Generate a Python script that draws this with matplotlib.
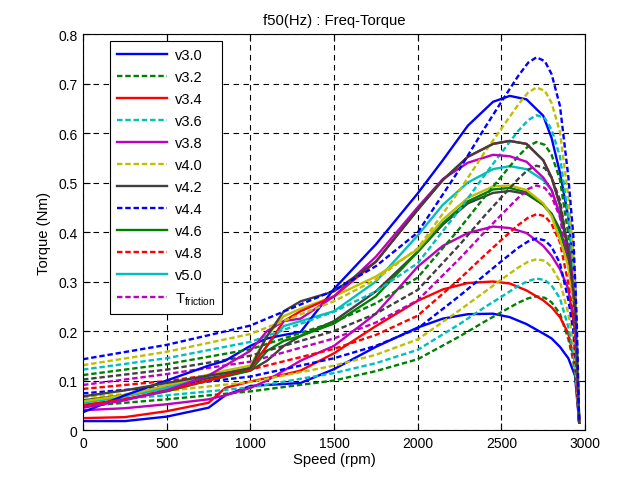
import numpy as np
import matplotlib
matplotlib.use("Agg")
import matplotlib.pyplot as plt

plt.rcParams['font.family'] = ['Liberation Sans', 'DejaVu Sans']
plt.rcParams['mathtext.fontset'] = 'custom'
plt.rcParams['mathtext.rm'] = 'Liberation Sans'
plt.rcParams['mathtext.it'] = 'Liberation Sans'

# speed grids (rpm)
speed_solid = [0, 250, 500, 750, 850, 1000, 1100, 1200, 1300, 1500, 1750, 2000,
               2150, 2300, 2450, 2550, 2650, 2750, 2800, 2850, 2900, 2940, 2965]
speed_dash = [0, 500, 1000, 1500, 1750, 2000, 2250, 2400, 2500, 2600, 2660,
              2710, 2760, 2800, 2850, 2900, 2930, 2950, 2965]

# solid curves (torque, Nm)
s0_blue = [.018, .018, .027, .045, .070, .089, .091, .093, .095, .123, .168, .207,
           .225, .234, .235, .228, .214, .195, .185, .168, .145, .110, .015]
s2_red = [.024, .026, .038, .055, .085, .098, .105, .112, .120, .155, .210, .261,
          .284, .297, .300, .296, .282, .262, .248, .228, .195, .135, .015]
s4_magenta = [.040, .044, .052, .062, .070, .085, .100, .120, .140, .170, .235, .330,
              .372, .398, .411, .408, .398, .372, .352, .325, .285, .200, .015]
s6_gray = [.060, .070, .085, .105, .110, .120, .140, .170, .190, .220, .280, .360,
           .415, .458, .479, .483, .477, .455, .437, .405, .350, .260, .015]
s8_green = [.050, .062, .078, .100, .108, .120, .160, .180, .190, .215, .270, .360,
            .418, .462, .486, .489, .480, .455, .435, .400, .345, .250, .015]
s10_cyan = [.055, .068, .085, .110, .115, .125, .170, .210, .220, .240, .300, .393,
            .455, .500, .527, .533, .527, .505, .485, .435, .370, .270, .015]
s12_yellow = [.058, .070, .090, .112, .120, .130, .190, .230, .245, .270, .310, .365,
              .425, .469, .492, .494, .485, .458, .432, .385, .330, .240, .015]
s14_blue = [.036, .070, .100, .130, .140, .170, .185, .192, .198, .285, .375, .478,
            .545, .615, .663, .675, .668, .635, .590, .520, .430, .300, .015]
s16_red = [.050, .062, .080, .100, .110, .125, .170, .220, .240, .270, .340, .445,
           .505, .552, .578, .584, .578, .545, .510, .455, .360, .260, .015]
s18_magenta = [.045, .060, .080, .110, .130, .160, .200, .220, .225, .270, .350, .450,
               .507, .540, .556, .553, .542, .510, .485, .435, .370, .270, .015]
s20_gray = [.068, .080, .095, .110, .115, .125, .190, .240, .260, .280, .340, .445,
            .505, .552, .578, .584, .578, .545, .510, .455, .360, .260, .015]

# dashed curves (torque, Nm)
d1_green = [.048, .062, .078, .100, .119, .143, .189, .219, .238, .257, .266,
            .270, .267, .258, .235, .184, .140, .081, .015]
d3_cyan = [.058, .070, .086, .115, .135, .162, .214, .248, .269, .291, .301,
           .306, .303, .292, .266, .208, .159, .092, .015]
d5_yellow = [.066, .079, .097, .130, .152, .183, .242, .279, .304, .328, .340,
             .345, .342, .329, .300, .235, .179, .104, .015]
d7_blue = [.074, .088, .108, .145, .170, .205, .271, .313, .341, .368, .381,
           .387, .383, .370, .337, .263, .201, .116, .015]
d9_red = [.083, .099, .122, .164, .192, .231, .305, .353, .384, .414, .429,
          .436, .432, .416, .379, .296, .227, .131, .015]
d11_magenta = [.091, .113, .138, .185, .217, .262, .346, .400, .435, .469, .487,
               .494, .489, .472, .430, .336, .257, .148, .015]
d13_gray = [.102, .122, .150, .200, .235, .283, .374, .433, .470, .507, .526,
            .534, .529, .510, .465, .363, .278, .160, .015]
d15_green = [.111, .133, .163, .218, .256, .308, .407, .471, .512, .553, .573,
             .582, .576, .556, .506, .396, .303, .175, .015]
d17_cyan = [.122, .145, .178, .239, .280, .337, .445, .515, .560, .604, .626,
            .636, .630, .607, .553, .432, .331, .191, .015]
d19_yellow = [.131, .158, .194, .260, .304, .367, .484, .561, .609, .657, .682,
              .692, .685, .661, .602, .471, .360, .208, .015]
d21_blue = [.143, .172, .211, .282, .331, .399, .527, .610, .663, .715, .742,
            .753, .745, .719, .655, .512, .392, .226, .015]

labels = ['v3.0', 'v3.2', 'v3.4', 'v3.6', 'v3.8', 'v4.0', 'v4.2', 'v4.4',
          'v4.6', 'v4.8', 'v5.0', r'T$_{\mathrm{friction}}$']

colors = [(0, 0, 1), (0, 0.5, 0), (1, 0, 0), (0, 0.75, 0.75),
          (0.75, 0, 0.75), (0.75, 0.75, 0), (0.25, 0.25, 0.25)]

# plotting order alternates solid / dashed
curves = [s0_blue, d1_green, s2_red, d3_cyan, s4_magenta, d5_yellow, s6_gray,
          d7_blue, s8_green, d9_red, s10_cyan, d11_magenta, s12_yellow,
          d13_gray, s14_blue, d15_green, s16_red, d17_cyan, s18_magenta,
          d19_yellow, s20_gray, d21_blue]

fig = plt.figure(figsize=(6.28, 4.89), dpi=100)
ax = fig.add_axes([0.1322, 0.1186, 0.7994, 0.8098])

handles = []
for i, y in enumerate(curves):
    if i % 2 == 0:
        h, = ax.plot(speed_solid, y, color=colors[i % 7], lw=1.7,
                     linestyle='-', solid_joinstyle='round')
    else:
        h, = ax.plot(speed_dash, y, color=colors[i % 7], lw=1.7,
                     linestyle=(0, (2.3, 1.2)))
    handles.append(h)

ax.set_xlim(0, 3000)
ax.set_ylim(0, 0.8)
ax.set_xticks(np.arange(0, 3001, 500))
ax.set_yticks(np.arange(0, 0.81, 0.1))
ax.set_yticklabels(['0', '0.1', '0.2', '0.3', '0.4', '0.5', '0.6', '0.7', '0.8'])
ax.tick_params(direction='in', length=5, top=True, right=True, labelsize=10,
               width=0.8, pad=4)
ax.grid(True, color='k', linestyle=(0, (5, 4)), linewidth=0.8)
for sp in ax.spines.values():
    sp.set_linewidth(0.8)

ax.set_title('f50(Hz) : Freq-Torque', fontsize=10.7, pad=7)
ax.set_xlabel('Speed (rpm)', fontsize=10.7, labelpad=2)
ax.set_ylabel('Torque (Nm)', fontsize=10.7, labelpad=5)

leg = ax.legend(handles[:12], labels, loc='upper left',
                bbox_to_anchor=(0.053, 0.983), fontsize=10.5, frameon=True,
                fancybox=False, edgecolor='k', framealpha=1,
                handlelength=3.4, handletextpad=0.55, labelspacing=0.55,
                borderpad=0.5, borderaxespad=0)
leg.get_frame().set_linewidth(0.8)

fig.savefig('out.png', dpi=100)
